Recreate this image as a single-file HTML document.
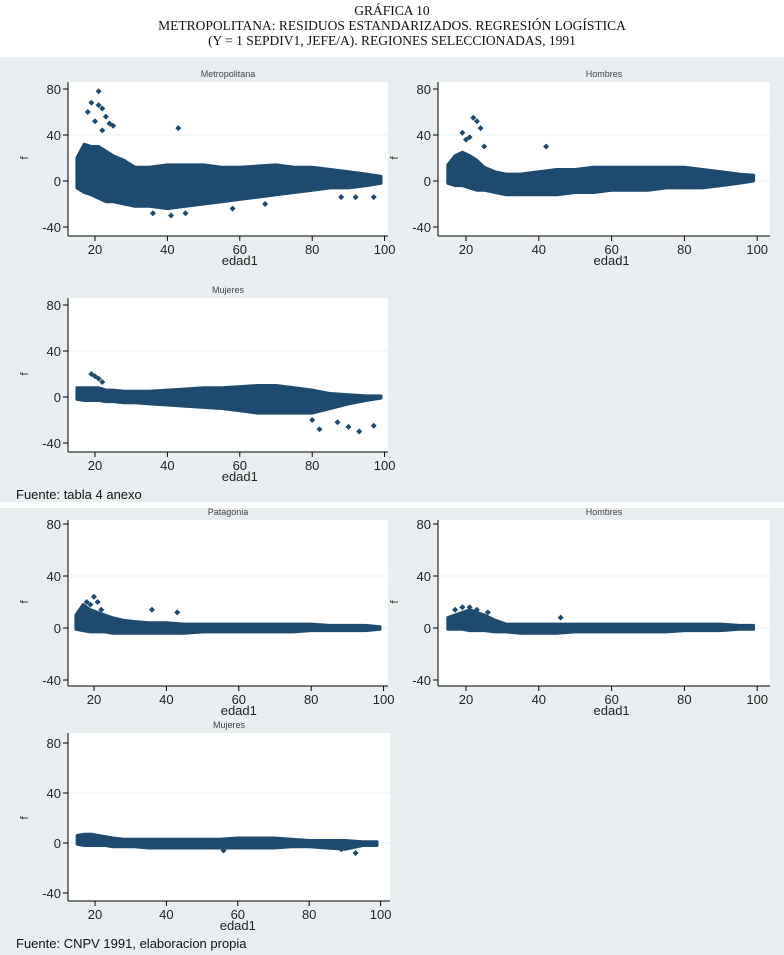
<!DOCTYPE html>
<html><head><meta charset="utf-8">
<style>
html,body{margin:0;padding:0;background:#fff;}
body{width:784px;height:955px;position:relative;overflow:hidden;font-family:"Liberation Sans",sans-serif;}
.ttl{position:absolute;left:0;width:784px;text-align:center;font-family:"Liberation Serif",serif;font-size:13.5px;line-height:15px;color:#111;}
</style></head><body>
<div class="ttl" style="top:3px">GRÁFICA 10<br>METROPOLITANA: RESIDUOS ESTANDARIZADOS. REGRESIÓN LOGÍSTICA<br>(Y = 1 SEPDIV1, JEFE/A). REGIONES SELECCIONADAS, 1991</div>
<svg id="chart" width="784" height="955" style="position:absolute;left:0;top:0" xmlns="http://www.w3.org/2000/svg"></svg>
<script>
// ---- data: band envelope per age and outliers per panel ----
const ages = [15,17,19,21,23,25,28,31,35,40,45,50,55,60,65,70,75,80,85,90,95,99];
const metroUpper = [20,32,30,30,26,22,18,12,12,14,14,14,12,12,13,14,12,12,10,8,6,4];
const metroLower = [-6,-10,-12,-15,-18,-18,-20,-22,-22,-24,-22,-20,-18,-16,-14,-12,-10,-8,-6,-6,-4,-2];
const metroOutX = [18,19,20,21,21,22,22,23,24,25,43,36,41,45,58,67,88,92,97];
const metroOutY = [60,68,52,78,66,44,63,56,50,48,46,-28,-30,-28,-24,-20,-14,-14,-14];
const hombUpper = [14,22,25,22,18,12,8,6,6,8,10,10,12,12,12,12,12,12,10,8,6,5];
const hombLower = [-2,-4,-4,-6,-8,-8,-10,-12,-12,-12,-12,-10,-10,-8,-8,-8,-6,-6,-6,-4,-2,0];
const hombOutX = [19,20,21,22,23,24,25,42];
const hombOutY = [42,36,38,55,52,46,30,30];
const mujUpper = [8,8,8,8,6,6,5,5,5,6,7,8,8,9,10,10,8,6,3,2,1,1];
const mujLower = [-2,-3,-3,-3,-4,-4,-5,-5,-6,-7,-8,-9,-10,-12,-14,-14,-14,-14,-10,-6,-3,-1];
const mujOutX = [19,20,21,22,80,82,87,90,93,97];
const mujOutY = [20,18,16,13,-20,-28,-22,-26,-30,-25];
const patUpper = [10,18,14,12,10,8,6,5,4,4,3,3,3,3,3,3,3,3,2,2,2,1];
const patLower = [-1,-2,-3,-3,-3,-4,-4,-4,-4,-4,-4,-3,-3,-3,-3,-3,-3,-2,-2,-2,-2,-1];
const patOutX = [18,19,20,21,22,36,43];
const patOutY = [20,18,24,20,14,14,12];
const hbUpper = [8,10,12,14,12,10,6,3,3,3,3,3,3,3,3,3,3,3,3,3,2,2];
const hbLower = [-1,-1,-1,-2,-2,-2,-3,-3,-4,-4,-4,-3,-3,-3,-3,-3,-3,-2,-2,-2,-1,-1];
const hbOutX = [17,19,21,23,26,46];
const hbOutY = [14,16,16,14,12,8];
const mbUpper = [6,7,7,6,5,4,3,3,3,3,3,3,3,4,4,4,3,2,2,2,1,1];
const mbLower = [-1,-2,-2,-2,-2,-3,-3,-3,-4,-4,-4,-4,-4,-4,-4,-4,-3,-3,-4,-5,-2,-2];
const mbOutX = [56,89,93];
const mbOutY = [-6,-5,-8];
const yTicks = [-40,0,40,80];
const xTicks = [20,40,60,80,100];
const xTickLabels = ["20","40","60","80","100"];

const svg = document.getElementById('chart');
const NS = 'http://www.w3.org/2000/svg';
function mk(tag, attrs, parent){const e=document.createElementNS(NS,tag);for(const k in attrs)e.setAttribute(k,attrs[k]);(parent||svg).appendChild(e);return e;}

// backgrounds
let bg1 = mk('rect',{x:0,y:57,width:784,height:445,fill:'#e9eff1'});


let bg2 = mk('rect',{x:0,y:508,width:784,height:447,fill:'#e9eff1'});



const COL = '#1d4a6e';
function panel(cfg, up, lo, ox, oy){
  const g = mk('g',{});
  
  
  const X = a => cfg.x20 + (a-20)*cfg.xs;
  const Y = v => cfg.y0 - v*cfg.ys;
  const pr = mk('rect',{x:cfg.l,y:cfg.t,width:cfg.r-cfg.l,height:cfg.b-cfg.t,fill:'#fff'},g);
  
  
  // grid
  yTicks.forEach(v=>{ if(v!==-40&&v!==80){ mk('line',{x1:cfg.l,x2:cfg.r,y1:Y(v),y2:Y(v),stroke:'#eef3f5','stroke-width':1},g);} });
  // band
  let pts=[];
  ages.forEach((a,i)=>pts.push(X(a)+','+Y(up[i])));
  for(let i=ages.length-1;i>=0;i--)pts.push(X(ages[i])+','+Y(lo[i]));
  const band = mk('polygon',{points:pts.join(' '),fill:COL,stroke:COL,'stroke-width':3,'stroke-linejoin':'round'},g);
  
  
  ox.forEach((a,i)=>{
    const cx=X(a), cy=Y(oy[i]);
    const d = mk('path',{d:`M${cx} ${cy-3}L${cx+3} ${cy}L${cx} ${cy+3}L${cx-3} ${cy}Z`,fill:COL},g);
    
    
  });
  // axes
  mk('line',{x1:cfg.l,x2:cfg.l,y1:cfg.t,y2:cfg.b,stroke:'#000','stroke-width':1},g);
  mk('line',{x1:cfg.l,x2:cfg.r,y1:cfg.b,y2:cfg.b,stroke:'#000','stroke-width':1},g);
  yTicks.forEach(v=>{
    mk('line',{x1:cfg.l-5,x2:cfg.l,y1:Y(v),y2:Y(v),stroke:'#000'},g);
    const t=mk('text',{x:cfg.l-7,y:Y(v)+5,'text-anchor':'end','font-size':13,fill:'#222'},g);
    t.textContent=String(v);
    
    
  });
  xTicks.forEach((v,i)=>{
    mk('line',{x1:X(v),x2:X(v),y1:cfg.b,y2:cfg.b+5,stroke:'#000'},g);
    const t=mk('text',{x:X(v),y:cfg.b+18,'text-anchor':'middle','font-size':13,fill:'#222'},g);
    t.textContent=xTickLabels[i];
    
    
  });
  const xt=mk('text',{x:X(60),y:cfg.b+29,'text-anchor':'middle','font-size':13,fill:'#222'},g);
  xt.textContent='edad1';
  
  
  const yt=mk('text',{x:cfg.l-44,y:Y(20)+4,'text-anchor':'middle','font-size':11,fill:'#222',transform:`rotate(-90 ${cfg.l-44} ${Y(20)})`},g);
  yt.textContent='f';
  
  
  const pt=mk('text',{x:(cfg.l+cfg.r)/2,y:cfg.t-5,'text-anchor':'middle','font-size':9,fill:'#444'},g);
  pt.textContent=cfg.title;
  
  
}
panel({name:'metropolitana-panel',title:'Metropolitana',l:68,r:388,t:82,b:236,y0:181,ys:1.15,x20:95,xs:3.62},metroUpper,metroLower,metroOutX,metroOutY);
panel({name:'hombres-metro-panel',title:'Hombres',l:438,r:770,t:82,b:236,y0:181,ys:1.15,x20:466,xs:3.64},hombUpper,hombLower,hombOutX,hombOutY);
panel({name:'mujeres-metro-panel',title:'Mujeres',l:68,r:388,t:298,b:452,y0:397,ys:1.15,x20:95,xs:3.62},mujUpper,mujLower,mujOutX,mujOutY);
panel({name:'patagonia-panel',title:'Patagonia',l:68,r:388,t:520,b:686,y0:628,ys:1.3,x20:94,xs:3.62},patUpper,patLower,patOutX,patOutY);
panel({name:'hombres-patagonia-panel',title:'Hombres',l:438,r:770,t:520,b:686,y0:628,ys:1.3,x20:466,xs:3.64},hbUpper,hbLower,hbOutX,hbOutY);
panel({name:'mujeres-patagonia-panel',title:'Mujeres',l:68,r:390,t:733,b:901,y0:843,ys:1.25,x20:95,xs:3.57},mbUpper,mbLower,mbOutX,mbOutY);

const f1=mk('text',{x:16,y:499,'font-size':13,fill:'#111'});
f1.textContent='Fuente: tabla 4 anexo';


const f2=mk('text',{x:16,y:948,'font-size':13,fill:'#111'});
f2.textContent='Fuente: CNPV 1991, elaboracion propia';


</script>
</body></html>
